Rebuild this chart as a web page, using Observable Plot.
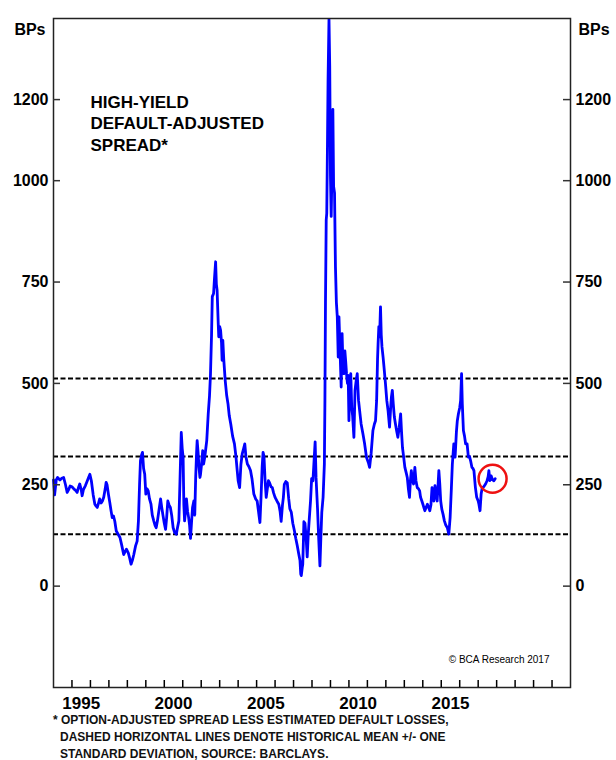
<!DOCTYPE html>
<html>
<head>
<meta charset="utf-8">
<script src="https://cdn.jsdelivr.net/npm/d3@7"></script>
<script src="https://cdn.jsdelivr.net/npm/@observablehq/plot@0.6"></script>
<style>
  html, body { margin: 0; padding: 0; background: #fff; }
  #chart { width: 616px; height: 760px; position: relative; font-family: "Liberation Sans", Arial, sans-serif; }
  #note { position: absolute; left: 0; top: 712px; width: 616px; font-size: 12px; font-weight: bold; line-height: 17px; color: #111; padding-left: 60px; text-indent: -7px; box-sizing: border-box; }
</style>
</head>
<body>
<div id="chart"></div>
<script>
// ---- data ----
const yTicks = [0, 250, 500, 750, 1000, 1200];
const yearTicks = d3.range(1995, 2022);
const labelYears = [1995, 2000, 2005, 2010, 2015];
const bands = [128, 320, 512]; // mean - 1sd, mean, mean + 1sd
const circleYear = [2017.78];
const circleValue = [265];
const titleLines = ["HIGH-YIELD", "DEFAULT-ADJUSTED", "SPREAD*"];
const unitLabel = "BPs";
const creditText = "© BCA Research 2017";
const footnoteLines = [
  "* OPTION-ADJUSTED SPREAD LESS ESTIMATED DEFAULT LOSSES,",
  "DASHED HORIZONTAL LINES DENOTE HISTORICAL MEAN +/- ONE",
  "STANDARD DEVIATION, SOURCE: BARCLAYS."
];
// [decimal year, spread in bps]
const spreadSeries = [
[1994.00,262],[1994.06,225],[1994.15,262],[1994.22,268],[1994.35,262],[1994.45,266],[1994.55,268],[1994.65,250],[1994.74,231],[1994.82,238],[1994.90,247],
[1995.00,245],[1995.10,240],[1995.20,236],[1995.28,231],[1995.35,243],[1995.42,252],[1995.50,238],[1995.55,223],[1995.62,238],[1995.73,248],[1995.80,256],[1995.90,268],[1995.97,276],
[1996.05,260],[1996.15,225],[1996.24,202],[1996.30,198],[1996.37,194],[1996.44,205],[1996.50,215],[1996.58,205],[1996.65,210],[1996.72,219],[1996.80,240],[1996.85,256],[1996.90,250],[1996.98,225],
[1997.05,206],[1997.12,185],[1997.18,169],[1997.25,173],[1997.32,160],[1997.40,136],[1997.50,128],[1997.60,120],[1997.70,100],[1997.80,78],[1997.88,85],[1997.95,91],
[1998.05,82],[1998.12,70],[1998.20,54],[1998.28,65],[1998.35,78],[1998.45,100],[1998.53,111],[1998.60,161],[1998.66,250],[1998.71,309],[1998.78,325],[1998.82,330],[1998.88,290],[1998.94,276],
[1999.00,227],[1999.07,240],[1999.13,235],[1999.20,215],[1999.28,202],[1999.35,175],[1999.43,161],[1999.50,150],[1999.56,144],[1999.63,161],[1999.72,190],[1999.80,215],[1999.86,195],[1999.92,177],
[2000.00,155],[2000.07,140],[2000.13,170],[2000.19,210],[2000.26,200],[2000.33,194],[2000.40,175],[2000.48,144],[2000.56,132],[2000.65,128],[2000.72,145],[2000.79,161],[2000.85,260],[2000.92,379],[2000.97,340],
[2001.02,318],[2001.06,200],[2001.10,161],[2001.16,190],[2001.20,215],[2001.26,185],[2001.32,169],[2001.37,150],[2001.42,118],[2001.48,160],[2001.53,194],[2001.60,210],[2001.65,175],[2001.70,268],[2001.75,330],[2001.78,359],[2001.83,330],[2001.88,293],[2001.93,268],[2001.96,275],
[2002.02,301],[2002.08,334],[2002.13,301],[2002.20,320],[2002.25,340],[2002.30,359],[2002.38,425],[2002.45,470],[2002.50,520],[2002.56,620],[2002.60,714],[2002.67,722],[2002.72,760],[2002.78,800],[2002.82,745],[2002.86,730],[2002.92,650],[2002.95,615],
[2003.00,640],[2003.05,631],[2003.10,600],[2003.13,557],[2003.17,606],[2003.22,560],[2003.30,507],[2003.38,470],[2003.45,450],[2003.52,420],[2003.60,400],[2003.70,370],[2003.80,351],[2003.88,320],[2003.95,285],
[2004.00,260],[2004.08,243],[2004.15,300],[2004.22,326],[2004.30,340],[2004.36,351],[2004.42,320],[2004.50,301],[2004.58,295],[2004.67,285],[2004.75,265],[2004.85,227],[2004.95,215],
[2005.03,210],[2005.10,185],[2005.18,157],[2005.24,220],[2005.30,293],[2005.35,330],[2005.40,320],[2005.46,260],[2005.52,219],[2005.58,240],[2005.64,260],[2005.70,255],[2005.78,245],[2005.85,243],[2005.92,230],
[2006.00,219],[2006.10,210],[2006.20,202],[2006.27,185],[2006.33,160],[2006.40,200],[2006.45,219],[2006.50,251],[2006.58,258],[2006.66,255],[2006.74,215],[2006.80,191],[2006.88,182],[2006.96,155],
[2007.05,136],[2007.12,118],[2007.20,100],[2007.28,80],[2007.35,63],[2007.39,30],[2007.42,26],[2007.47,45],[2007.50,54],[2007.54,120],[2007.56,159],[2007.62,155],[2007.68,120],[2007.74,72],[2007.80,130],[2007.85,164],[2007.92,210],[2007.98,265],
[2008.05,260],[2008.10,300],[2008.17,356],[2008.22,267],[2008.30,191],[2008.36,120],[2008.43,50],[2008.48,120],[2008.53,182],[2008.60,219],[2008.67,301],[2008.70,458],[2008.73,700],[2008.77,903],[2008.80,920],[2008.84,1100],[2008.87,1250],[2008.92,1398],[2008.96,1283],
[2009.00,1011],[2009.04,912],[2009.09,1050],[2009.13,1176],[2009.17,986],[2009.22,970],[2009.27,788],[2009.32,700],[2009.37,664],[2009.42,565],[2009.46,664],[2009.52,580],[2009.58,491],[2009.63,623],[2009.68,540],[2009.73,524],[2009.78,580],[2009.82,557],[2009.87,524],[2009.92,500],[2009.96,520],
[2010.00,408],[2010.05,500],[2010.10,524],[2010.15,441],[2010.20,420],[2010.27,367],[2010.33,483],[2010.40,510],[2010.45,524],[2010.52,458],[2010.58,433],[2010.66,400],[2010.76,375],[2010.85,351],[2010.95,318],
[2011.05,305],[2011.12,293],[2011.20,326],[2011.30,384],[2011.38,400],[2011.44,408],[2011.50,458],[2011.55,560],[2011.58,598],[2011.62,640],[2011.66,615],[2011.71,689],[2011.75,620],[2011.79,590],[2011.85,565],[2011.90,540],[2011.98,499],
[2012.05,458],[2012.12,433],[2012.20,392],[2012.26,440],[2012.30,466],[2012.35,483],[2012.40,450],[2012.46,417],[2012.52,400],[2012.58,384],[2012.65,367],[2012.72,390],[2012.80,425],[2012.85,380],[2012.90,342],[2012.96,320],
[2013.03,293],[2013.10,280],[2013.16,268],[2013.22,240],[2013.28,219],[2013.33,260],[2013.38,285],[2013.44,260],[2013.50,252],[2013.57,293],[2013.63,260],[2013.70,243],[2013.77,240],[2013.83,235],[2013.88,219],[2013.95,210],
[2014.02,200],[2014.11,186],[2014.18,194],[2014.25,202],[2014.32,194],[2014.38,186],[2014.44,200],[2014.50,243],[2014.55,215],[2014.60,210],[2014.66,248],[2014.72,225],[2014.78,210],[2014.87,285],[2014.92,252],[2014.97,210],
[2015.03,190],[2015.10,177],[2015.17,161],[2015.25,150],[2015.33,144],[2015.41,128],[2015.48,169],[2015.55,243],[2015.60,300],[2015.68,351],[2015.75,318],[2015.82,380],[2015.87,408],[2015.93,425],
[2016.00,440],[2016.05,458],[2016.10,524],[2016.14,450],[2016.20,384],[2016.26,370],[2016.32,351],[2016.40,351],[2016.47,318],[2016.53,320],[2016.59,309],[2016.66,293],[2016.72,290],[2016.77,285],[2016.85,243],[2016.92,219],
[2017.00,210],[2017.04,202],[2017.10,186],[2017.16,227],[2017.22,243],[2017.30,245],[2017.40,252],[2017.48,260],[2017.54,270],[2017.58,285],[2017.63,260],[2017.70,272],[2017.78,262],[2017.85,260],[2017.92,265]
];

const data = spreadSeries.map(([year, value]) => ({year, value}));
const circle = circleYear.map((year, i) => ({year, value: circleValue[i]}));

const FONT = "Liberation Sans, Arial, sans-serif";
const W = 616, H = 712, ML = 53, MR = 46, MT = 18, MB = 25;
const plotW = W - ML - MR, plotH = H - MT - MB;
const TICK = 7;

const chart = Plot.plot({
  width: W, height: H,
  marginLeft: ML, marginRight: MR, marginTop: MT, marginBottom: MB,
  style: {fontFamily: FONT, background: "#fff", color: "#000"},
  x: {type: "linear", domain: [1994, 2022], axis: null},
  y: {domain: [-250, 1400], axis: null},
  marks: [
    // dashed mean +/- sd lines
    Plot.ruleY(bands, {stroke: "#000", strokeWidth: 2, strokeDasharray: "5,2.5"}),
    // series line
    Plot.line(data, {x: "year", y: "value", stroke: "#0000ff", strokeWidth: 2.8, strokeLinejoin: "round"}),
    // highlight circle
    Plot.dot(circle, {x: "year", y: "value", r: 14, stroke: "#ee1111", strokeWidth: 2.5, fill: "none"}),
    // frame
    Plot.frame({stroke: "#222", strokeWidth: 1.5}),
    // inward tick marks
    Plot.tickX(yearTicks, {x: d => d, insetTop: plotH - TICK, stroke: "#000", strokeWidth: 1.5}),
    Plot.tickY(yTicks, {y: d => d, insetRight: plotW - TICK, stroke: "#333", strokeWidth: 1.5}),
    Plot.tickY(yTicks, {y: d => d, insetLeft: plotW - TICK, stroke: "#333", strokeWidth: 1.5}),
    // x labels centered within the year
    Plot.axisX(labelYears.map(d => d + 0.5), {anchor: "bottom", tickSize: 0, tickPadding: 9, tickFormat: d => String(Math.floor(d)), fontSize: 17, fontWeight: "bold", label: null}),
    // y labels
    Plot.axisY(yTicks, {anchor: "left", tickSize: 0, tickPadding: 5, tickFormat: d => String(d), fontSize: 16, fontWeight: "bold", label: null}),
    Plot.axisY(yTicks, {anchor: "right", tickSize: 0, tickPadding: 5, tickFormat: d => String(d), fontSize: 16, fontWeight: "bold", label: null}),
    // unit labels
    Plot.text([unitLabel], {text: d => d, frameAnchor: "top-left", dx: -8, dy: 5, textAnchor: "end", fontSize: 16, fontWeight: "bold"}),
    Plot.text([unitLabel], {text: d => d, frameAnchor: "top-right", dx: 8, dy: 5, textAnchor: "start", fontSize: 16, fontWeight: "bold"}),
    // title
    Plot.text([titleLines.join("\n")], {text: d => d, frameAnchor: "top-left", dx: 37, dy: 74, textAnchor: "start", lineAnchor: "top", lineHeight: 1.27, fontSize: 17, fontWeight: "bold"}),
    // credit
    Plot.text([creditText], {text: d => d, frameAnchor: "bottom-right", dx: -21, dy: -25, textAnchor: "end", fontSize: 10})
  ]
});

const host = document.getElementById("chart");
host.appendChild(chart);
const note = document.createElement("div");
note.id = "note";
note.innerHTML = footnoteLines.join("<br>");
host.appendChild(note);
</script>
</body>
</html>
